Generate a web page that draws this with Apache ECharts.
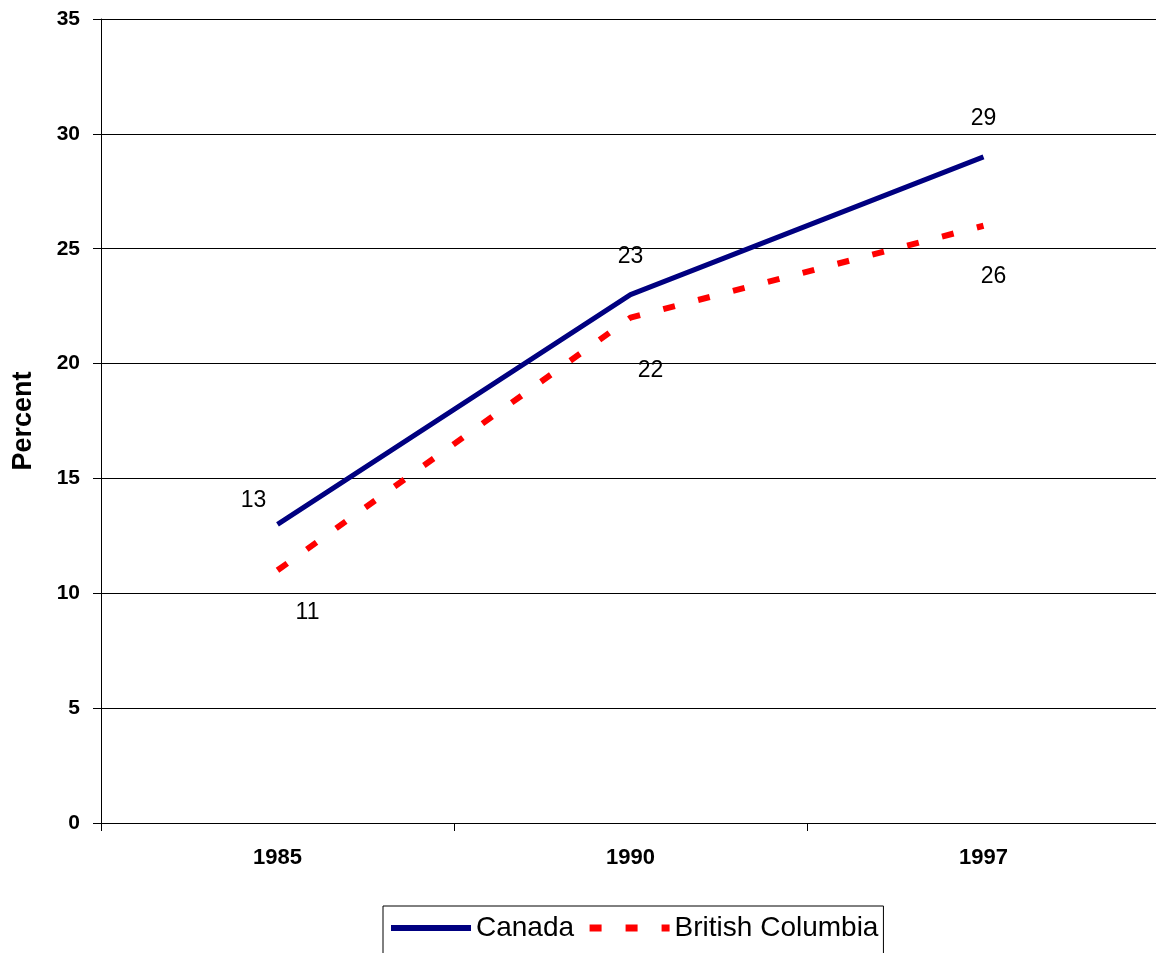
<!DOCTYPE html>
<html>
<head>
<meta charset="utf-8">
<script src="https://cdn.jsdelivr.net/npm/echarts@6/dist/echarts.min.js"></script>
<style>
  html, body { margin: 0; padding: 0; background: #fff; }
  #chart-container { width: 1156px; height: 953px; }
</style>
</head>
<body>
<div id="chart-container"></div>
<script>
var years = ['1985', '1990', '1997'];
var canada = [13, 23, 29];
var bc = [11, 22, 26];

var dom = document.getElementById('chart-container');
var myChart = echarts.init(dom, null, { renderer: 'canvas' });

// label offsets for each point
var canadaOffsets = [[-24, -24], [0, -38], [0, -38]];
var bcOffsets = [[30, 42], [20, 53], [10, 51]];

function withLabels(values, offsets) {
  return values.map(function (v, i) {
    return { value: v, label: { offset: offsets[i] } };
  });
}

var font = 'Liberation Sans, Arial, sans-serif';

var option = {
  animation: false,
  textStyle: { fontFamily: font },
  grid: { left: 101, top: 19, width: 1059, bottom: 130, outerBoundsMode: 'none' },
  legend: {
    top: 906,
    left: 383,
    padding: [8, 5, 14, 5],
    borderColor: '#000',
    borderWidth: 1,
    itemWidth: 80,
    itemHeight: 28,
    itemGap: 12,
    itemStyle: { opacity: 0 },
    textStyle: { fontSize: 28, color: '#000', fontFamily: font },
    data: [
      { name: 'Canada', lineStyle: { width: 6 } },
      { name: 'British Columbia', lineStyle: { width: 7 } }
    ]
  },
  xAxis: {
    type: 'category',
    data: years,
    boundaryGap: true,
    axisLine: { lineStyle: { color: '#000', width: 1 } },
    axisTick: { show: true, length: 8, lineStyle: { color: '#000' } },
    axisLabel: { color: '#000', fontSize: 22, fontWeight: 'bold', margin: 24 },
    splitLine: { show: false }
  },
  yAxis: {
    type: 'value',
    min: 0,
    max: 35,
    interval: 5,
    name: 'Percent',
    nameLocation: 'middle',
    nameGap: 64,
    nameRotate: 90,
    nameTextStyle: { color: '#000', fontSize: 27, fontWeight: 'bold' },
    axisLine: { show: true, lineStyle: { color: '#000', width: 1 } },
    axisTick: { show: true, length: 8, lineStyle: { color: '#000' } },
    axisLabel: { color: '#000', fontSize: 21, fontWeight: 'bold', margin: 21 },
    splitLine: { lineStyle: { color: '#000', width: 1 } }
  },
  series: [
    {
      name: 'Canada',
      type: 'line',
      data: withLabels(canada, canadaOffsets),
      showSymbol: true,
      symbol: 'circle',
      symbolSize: 1,
      itemStyle: { color: 'rgba(0,0,0,0)' },
      lineStyle: { color: '#000080', width: 5 },
      label: { show: true, position: 'inside', color: '#000', fontSize: 23 }
    },
    {
      name: 'British Columbia',
      type: 'line',
      data: withLabels(bc, bcOffsets),
      showSymbol: true,
      symbol: 'circle',
      symbolSize: 1,
      itemStyle: { color: 'rgba(0,0,0,0)' },
      lineStyle: { color: '#ff0000', width: 6, type: [12, 24] },
      label: { show: true, position: 'inside', color: '#000', fontSize: 23 }
    }
  ]
};

myChart.setOption(option);
window.addEventListener('resize', myChart.resize);
</script>
</body>
</html>
